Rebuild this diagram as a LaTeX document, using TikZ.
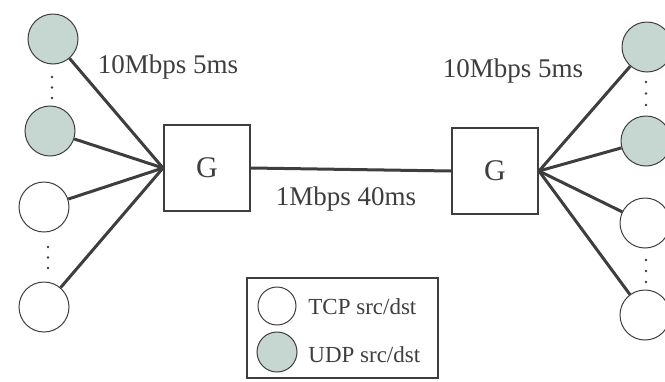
\documentclass[tikz,border=0pt]{standalone}
\usepackage{fontspec}
\setmainfont{Liberation Serif}
\usetikzlibrary{positioning,calc}
\definecolor{cudp}{RGB}{198,214,208}
\definecolor{cink}{RGB}{62,62,62}

\begin{document}
\begin{tikzpicture}[x=0.5pt,y=-0.5pt,color=cink,
  tcp/.style={circle,draw,line width=0.5pt,fill=white,minimum size=25pt,inner sep=0pt},
  udp/.style={tcp,fill=cudp},
  gw/.style={draw,line width=1pt,minimum size=43pt,inner sep=0pt,font=\fontsize{15}{17}\selectfont},
  link/.style={line width=1.5pt},
  lbl/.style={inner sep=0pt,font=\fontsize{13.5}{16}\selectfont},
  key/.style={inner sep=0pt,anchor=west,font=\fontsize{11.5}{14}\selectfont},
  dot/.style={circle,fill,inner sep=0pt,minimum size=1.4pt}]
  \useasboundingbox (0,0) rectangle (665,381);
  \clip (0,0) rectangle (665,381);
  % gateways
  \node[gw] (gl) at (207,168) {G};
  \node[gw] (gr) at (495,171) {G};
  % left hosts
  \node[udp] (udpA) at (53,39) {};
  \node[udp] (udpB) at (50,131) {};
  \node[tcp] (tcpA) at (44,207) {};
  \node[tcp] (tcpB) at (44,307) {};
  \foreach \y in {77,87.5,98} \node[dot] at (52,\y) {};
  \foreach \y in {247,257.5,268} \node[dot] at (48,\y) {};
  % right hosts
  \node[udp] (udpC) at (647,47) {};
  \node[udp] (udpD) at (646,141) {};
  \node[tcp] (tcpC) at (645,223) {};
  \node[tcp] (tcpD) at (645,315) {};
  \foreach \y in {82,93.5,105} \node[dot] at (646,\y) {};
  \foreach \y in {260,271,282} \node[dot] at (646,\y) {};
  % links
  \foreach \h in {udpA,udpB,tcpA,tcpB} \draw[link] (\h) -- (gl.west);
  \foreach \h in {udpC,udpD,tcpC,tcpD} \draw[link] (\h) -- (gr.east);
  \draw[link] (gl.east) -- (gr.west);
  \node[lbl] (accL) at (168,67) {10Mbps 5ms};
  \node[lbl] (accR) at (513,71) {10Mbps 5ms};
  \node[lbl] (core) at (346,199) {1Mbps 40ms};
  % legend
  \node[draw,line width=0.6pt,minimum width=95.5pt,minimum height=50pt,inner sep=0pt] (legend) at (342.5,328) {};
  \node[tcp,minimum size=19pt] (keyTcp) at (277,306) {};
  \node[udp,minimum size=20pt] (keyUdp) at (277,352) {};
  \node[key] at (308,307) {TCP src/dst};
  \node[key] at (308,355) {UDP src/dst};
\end{tikzpicture}
\end{document}
